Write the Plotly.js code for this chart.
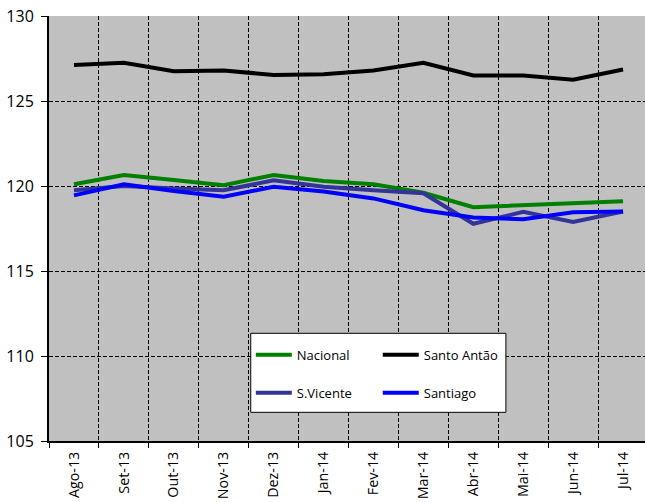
<!DOCTYPE html>
<html>
<head>
<meta charset="utf-8">
<script src="https://cdn.plot.ly/plotly-3.0.1.min.js"></script>
<style>html,body{margin:0;padding:0;background:#fff;}#chart{width:645px;height:502px;}</style>
</head>
<body>
<div id="chart"></div>
<script>
const months = ["Ago-13","Set-13","Out-13","Nov-13","Dez-13","Jan-14","Fev-14","Mar-14","Abr-14","Mai-14","Jun-14","Jul-14"];
const nacional   = [120.1, 120.65, 120.35, 120.05, 120.65, 120.3, 120.1, 119.6, 118.75, 118.85, 118.95, 119.1];
const santoAntao = [127.12, 127.25, 126.75, 126.8, 126.53, 126.58, 126.8, 127.25, 126.5, 126.5, 126.25, 126.85];
const sVicente   = [119.75, 120.0, 119.85, 119.75, 120.33, 119.95, 119.75, 119.57, 117.78, 118.48, 117.88, 118.5];
const santiago   = [119.45, 120.1, 119.7, 119.37, 119.95, 119.67, 119.27, 118.57, 118.15, 118.04, 118.45, 118.5];

const lw = 4;
const traces = [
  {name:"Nacional", y:nacional, color:"#008000", legend:"legend", group:"a"},
  {name:"Santo Antão", y:santoAntao, color:"#000000", legend:"legend2", group:"c"},
  {name:"S.Vicente", y:sVicente, color:"#333399", legend:"legend", group:"b"},
  {name:"Santiago", y:santiago, color:"#0000FF", legend:"legend2", group:"d"}
].map(s => ({
  type:"scatter", mode:"lines", x:months, y:s.y, name:s.name,
  line:{color:s.color, width:lw}, legend:s.legend, legendgroup:s.group
}));

const legFont = {family:"Open Sans", size:13, color:"#000"};
const layout = {
  width:645, height:502,
  margin:{l:49, r:0, t:16, b:61},
  paper_bgcolor:"#ffffff", plot_bgcolor:"#c0c0c0",
  showlegend:true,
  xaxis:{
    type:"category", range:[-0.5, 11.44], tickson:"boundaries",
    showgrid:true, gridcolor:"#000", gridwidth:1, griddash:"4px,2px",
    showline:true, linecolor:"#000", linewidth:2,
    ticks:"outside", ticklen:5, tickcolor:"#000", tickwidth:1,
    tickangle:-90, ticklabelstandoff:3,
    tickfont:{family:"Open Sans", size:14.3, color:"#000"},
    zeroline:false, fixedrange:true
  },
  yaxis:{
    range:[105,130], dtick:5, tick0:105,
    showgrid:true, gridcolor:"#000", gridwidth:1, griddash:"4px,2px",
    showline:true, linecolor:"#000", linewidth:2,
    ticks:"outside", ticklen:6, tickcolor:"#000", tickwidth:1,
    ticklabelstandoff:4,
    tickfont:{family:"Open Sans", size:16, color:"#000"},
    zeroline:false, fixedrange:true
  },
  legend:{x:0.3386, y:0.238, xanchor:"left", yanchor:"top", bgcolor:"rgba(0,0,0,0)", borderwidth:0,
          font:legFont, tracegroupgap:18, orientation:"v", itemwidth:36},
  legend2:{x:0.5516, y:0.238, xanchor:"left", yanchor:"top", bgcolor:"rgba(0,0,0,0)", borderwidth:0,
          font:legFont, tracegroupgap:18, orientation:"v", itemwidth:36},
  shapes:[{type:"rect", xref:"paper", yref:"paper", x0:0.3385, x1:0.7666, y0:0.0675, y1:0.2534,
           fillcolor:"#ffffff", line:{color:"#000", width:1}, layer:"above"}]
};

Plotly.newPlot("chart", traces, layout, {displayModeBar:false, staticPlot:true});
</script>
</body>
</html>
